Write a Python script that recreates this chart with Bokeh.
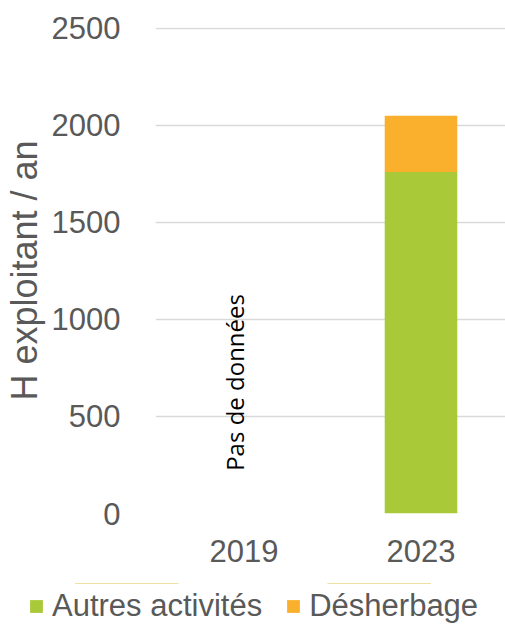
import math
from bokeh.plotting import figure
from bokeh.layouts import column
from bokeh.models import FactorRange, Range1d, FixedTicker, Legend, LegendItem, ColumnDataSource
from bokeh.core.properties import value
from bokeh.embed import file_html
from bokeh.resources import INLINE

years = ["2019", "2023"]
autres = [0, 1760]
desherbage = [0, 290]
series = ["Autres activités", "Désherbage"]
colors = ["#A9C938", "#FBB02D"]
y_ticks = [0, 500, 1000, 1500, 2000, 2500]
no_data_label = "Pas de données"
no_data_year = "2019"

src = ColumnDataSource(dict(years=years, autres=autres, desherbage=desherbage))

p = figure(frame_width=354, frame_height=486, output_backend="svg", toolbar_location=None,
           x_range=FactorRange(factors=years, range_padding=0), y_range=Range1d(0, 2505),
           min_border_left=151, min_border_right=0, min_border_top=27, min_border_bottom=70)
p.outline_line_color = None
p.background_fill_color = "white"
p.border_fill_color = "white"

rs = p.vbar_stack(["autres", "desherbage"], x="years", width=0.41, source=src,
                  color=colors, line_color=None)

# "Pas de données" annotation in 2019 column
p.text(x=[no_data_year], y=[220], text=[no_data_label], angle=math.pi/2,
       text_font=value("Open Sans"), text_font_size="24px", text_color="black",
       text_align="left", text_baseline="middle", x_offset=-10)

fs = "31px"
grey = "#595959"
for ax in (p.xaxis[0], p.yaxis[0]):
    ax.axis_line_color = None
    ax.major_tick_line_color = None
    ax.minor_tick_line_color = None
    ax.major_label_text_font = "Liberation Sans"
    ax.major_label_text_font_size = fs
    ax.major_label_text_color = grey
p.yaxis.ticker = FixedTicker(ticks=y_ticks)
p.yaxis.major_label_standoff = 29
p.xaxis.major_label_standoff = 20
p.yaxis.axis_label = "H exploitant / an"
p.yaxis.axis_label_text_font = "Liberation Sans"
p.yaxis.axis_label_text_font_size = "36px"
p.yaxis.axis_label_text_font_style = "normal"
p.yaxis.axis_label_text_color = grey
p.yaxis.axis_label_standoff = 4

p.xgrid.grid_line_color = None
p.ygrid.grid_line_color = "#D9D9D9"
p.ygrid.grid_line_width = 1.5
p.ygrid.ticker = FixedTicker(ticks=y_ticks)

# Legend strip below the chart (its bars lie outside its visible range)
lg = figure(width=505, height=43, output_backend="svg", toolbar_location=None,
            x_range=FactorRange(factors=years), y_range=Range1d(-2, -1),
            x_axis_location=None, y_axis_location=None,
            min_border_left=0, min_border_right=0, min_border_top=0, min_border_bottom=0)
lg.outline_line_color = None
lg.grid.visible = False
for fig in (p, lg):
    try:
        fig.frame_align = False
    except Exception:
        pass
lrs = lg.vbar_stack(["autres", "desherbage"], x="years", width=0.41, source=src,
                    color=colors, line_color=None)
legend = Legend(items=[LegendItem(label=s, renderers=[r]) for s, r in zip(series, lrs)],
                orientation="horizontal", location=(28, 2),
                label_text_font="Liberation Sans", label_text_font_size=fs,
                label_text_color=grey, glyph_width=16, glyph_height=16,
                label_standoff=8, spacing=23, padding=0, margin=0,
                border_line_color=None, background_fill_alpha=0)
lg.add_layout(legend, "center")

layout = column(p, lg, spacing=0)
open("out.html", "w").write(file_html(layout, INLINE))
